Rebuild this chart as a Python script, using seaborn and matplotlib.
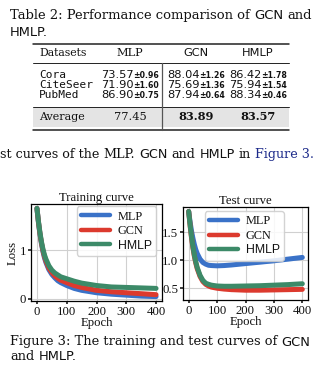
import matplotlib
matplotlib.use("Agg")
import matplotlib.pyplot as plt
import numpy as np
import pandas as pd
import seaborn as sns
from matplotlib.lines import Line2D
from matplotlib.patches import Rectangle

# ---------------- table values ----------------
datasets = ["Cora", "CiteSeer", "PubMed"]
table_models = ["MLP", "GCN", "HMLP"]
mlp_acc = ["73.57", "71.90", "86.90"]
mlp_std = ["0.96", "1.60", "0.75"]
gcn_acc = ["88.04", "75.69", "87.94"]
gcn_std = ["1.26", "1.36", "0.64"]
hmlp_acc = ["86.42", "75.94", "88.34"]
hmlp_std = ["1.78", "1.54", "0.46"]
avg_acc = ["77.45", "83.89", "83.57"]

# ---------------- loss curves ----------------
epochs = [0, 5, 10, 15, 20, 25, 30, 40, 50, 60, 70, 80, 100, 125, 150, 200, 250, 300, 350, 400]
train_mlp = [1.87, 1.58, 1.34, 1.14, 0.98, 0.85, 0.75, 0.60, 0.50, 0.43, 0.37, 0.33, 0.27, 0.21, 0.17, 0.12, 0.09, 0.07, 0.05, 0.04]
train_gcn = [1.87, 1.59, 1.35, 1.16, 1.00, 0.88, 0.78, 0.63, 0.54, 0.47, 0.42, 0.38, 0.33, 0.27, 0.23, 0.17, 0.14, 0.12, 0.10, 0.08]
train_hmlp = [1.87, 1.60, 1.37, 1.18, 1.03, 0.91, 0.82, 0.68, 0.59, 0.53, 0.49, 0.45, 0.41, 0.36, 0.32, 0.27, 0.24, 0.23, 0.22, 0.21]
test_mlp = [1.87, 1.68, 1.52, 1.39, 1.28, 1.19, 1.12, 1.02, 0.96, 0.93, 0.91, 0.905, 0.90, 0.905, 0.915, 0.94, 0.965, 0.99, 1.02, 1.05]
test_gcn = [1.87, 1.62, 1.40, 1.22, 1.07, 0.95, 0.85, 0.71, 0.62, 0.57, 0.54, 0.52, 0.50, 0.485, 0.475, 0.465, 0.465, 0.47, 0.475, 0.48]
test_hmlp = [1.87, 1.63, 1.42, 1.24, 1.09, 0.97, 0.87, 0.73, 0.64, 0.59, 0.57, 0.555, 0.54, 0.535, 0.535, 0.54, 0.545, 0.555, 0.565, 0.58]
test_mlp_spread = [0, 0, 0, 0, 0, 0, 0.005, 0.005, 0.01, 0.01, 0.01, 0.012, 0.015, 0.018, 0.02, 0.025, 0.03, 0.032, 0.035, 0.035]
test_hmlp_spread = [0, 0, 0, 0, 0, 0, 0, 0, 0.005, 0.005, 0.005, 0.006, 0.008, 0.01, 0.01, 0.012, 0.014, 0.015, 0.016, 0.017]
curve_labels = ["MLP", "GCN", "HMLP"]
colors = {"MLP": "#3a72c8", "GCN": "#dc3a2e", "HMLP": "#3c8a68"}

W, H = 335, 370
sns.set_theme(style="whitegrid", rc={
    "axes.edgecolor": "black",
    "axes.linewidth": 0.9,
    "grid.color": "#d0d0d0",
    "grid.linewidth": 0.8,
    "xtick.bottom": True,
    "ytick.left": True,
    "xtick.major.size": 2.5,
    "ytick.major.size": 2.5,
    "xtick.major.pad": 1,
    "ytick.major.pad": 1,
})
plt.rcParams["font.family"] = ["DejaVu Serif"]

fig = plt.figure(figsize=(W / 100, H / 100), dpi=100)
renderer = fig.canvas.get_renderer()

SERIF = "DejaVu Serif"
SANS = "DejaVu Sans"
MONO = "DejaVu Sans Mono"
INK = "#111111"


def fx(x):
    return x / W


def fy(y):
    return 1 - y / H


def run(x, y, pieces, size, target=None, align="left"):
    """Draw text pieces one after another on a common baseline (pixel coords)."""
    def draw(sz):
        arts, cx = [], 0.0
        for txt, props, gap in pieces:
            p = dict(props)
            scale = p.pop("scale", 1.0)
            t = fig.text(0, fy(y), txt, fontsize=sz * scale, va="baseline",
                         ha="left", color=p.pop("color", INK), **p)
            t._dx = cx
            bb = t.get_window_extent(renderer)
            cx += bb.width + gap * sz * 100 / 72
            arts.append(t)
        return arts, cx

    arts, width = draw(size)
    if target is not None:
        for a in arts:
            a.remove()
        size = size * target / width
        arts, width = draw(size)
    x0 = x - width / 2 if align == "center" else x
    for a in arts:
        a.set_x(fx(x0 + a._dx))
    return arts


SP = 0.32
serif = {"family": SERIF}
sans = {"family": SANS}

# ---------------- table caption ----------------
run(10, 19, [("Table 2: Performance comparison of", serif, SP),
             ("GCN", sans, SP), ("and", serif, 0)], 9.5, target=303)
run(10, 35.5, [("HMLP.", sans, 0)], 9.4)

# ---------------- table ----------------
TL, TR = 33, 289
fig.add_artist(Rectangle((fx(TL), fy(127.5)), (TR - TL) / W, 20 / H,
                         transform=fig.transFigure, facecolor="#e4e4e4",
                         edgecolor="none"))
for yy, lw in [(43.5, 1.1), (62.5, 0.7), (106.5, 0.7), (129.5, 1.1)]:
    fig.add_artist(Line2D([fx(TL), fx(TR)], [fy(yy), fy(yy)], color="#222222", lw=lw))
fig.add_artist(Line2D([fx(162), fx(162)], [fy(63), fy(130)], color="#555555", lw=0.9))

col_centers = [130, 196, 258]
head_fonts = [serif, sans, sans]
run(39, 56.5, [("Datasets", serif, 0)], 7.8)
for cx, name, fp in zip(col_centers, table_models, head_fonts):
    run(cx, 56.5, [(name, fp, 0)], 8.2, align="center")

row_base = [77.5, 87.5, 98]
acc_cols = [(mlp_acc, mlp_std), (gcn_acc, gcn_std), (hmlp_acc, hmlp_std)]
for i, (ds, yb) in enumerate(zip(datasets, row_base)):
    run(39, yb, [(ds, {"family": MONO}, 0)], 8.0)
    for cx, (accs, stds) in zip(col_centers, acc_cols):
        run(cx, yb, [(accs[i], {"family": SANS}, 0),
                     ("\u00b1" + stds[i], {"family": SANS, "weight": "bold", "scale": 0.68}, 0)],
            8.2, align="center")

run(39, 120, [("Average", serif, 0)], 8.0)
for k, (cx, v) in enumerate(zip(col_centers, avg_acc)):
    props = {"family": SERIF, "weight": "normal" if k == 0 else "bold"}
    run(cx, 120, [(v, props, 0)], 8.2, align="center")

# ---------------- running text ----------------
run(0, 158.5, [("st curves of the", serif, SP), ("MLP.", serif, SP), ("GCN", sans, SP),
               ("and", serif, SP), ("HMLP", sans, SP), ("in", serif, SP),
               ("Figure 3.", {"family": SERIF, "color": "#1c2a8a"}, 0)], 9.5, target=315)

# ---------------- loss plots ----------------
frames = []
for split, series in [("train", (train_mlp, train_gcn, train_hmlp)),
                      ("test", (test_mlp, test_gcn, test_hmlp))]:
    for lab, vals in zip(curve_labels, series):
        frames.append(pd.DataFrame({"Epoch": epochs, "Loss": vals,
                                    "Model": lab, "split": split}))
df = pd.concat(frames, ignore_index=True)

ax1 = fig.add_axes([fx(31), fy(301), 131 / W, 97 / H])
ax2 = fig.add_axes([fx(183), fy(300), 125 / W, 93 / H])

sns.lineplot(data=df[df.split == "train"], x="Epoch", y="Loss", hue="Model",
             hue_order=curve_labels, palette=colors, lw=3.6, ax=ax1)
sns.lineplot(data=df[df.split == "test"], x="Epoch", y="Loss", hue="Model",
             hue_order=curve_labels, palette=colors, lw=3.6, ax=ax2)
ax2.fill_between(epochs, np.array(test_mlp) - np.array(test_mlp_spread),
                 np.array(test_mlp) + np.array(test_mlp_spread),
                 color=colors["MLP"], alpha=0.18, lw=0)
ax2.fill_between(epochs, np.array(test_hmlp) - np.array(test_hmlp_spread),
                 np.array(test_hmlp) + np.array(test_hmlp_spread),
                 color=colors["HMLP"], alpha=0.15, lw=0)

TICK_FONT = "Liberation Serif"
FS = 9.2
for ax, title in [(ax1, "Training curve"), (ax2, "Test curve")]:
    ax.set_title(title, fontsize=FS, family=TICK_FONT, pad=1.5, color=INK)
    ax.set_xlabel("Epoch", fontsize=FS, family=TICK_FONT, labelpad=-0.5, color=INK)
    ax.set_xticks([0, 100, 200, 300, 400])
    for s in ax.spines.values():
        s.set_color("black")

ax1.set_yticks([0, 1])
ax1.set_ylabel("Loss", fontsize=FS, family=TICK_FONT, labelpad=1, color=INK)
ax2.set_yticks([0.5, 1.0, 1.5])
ax2.set_ylabel("")
ax2.set_ylim(0.29, 1.95)
for ax in (ax1, ax2):
    for lab in ax.get_xticklabels() + ax.get_yticklabels():
        lab.set_family(TICK_FONT)
        lab.set_fontsize(FS)
        lab.set_color(INK)

for ax, loc, anchor in [(ax1, "upper right", (0.955, 0.975)),
                        (ax2, "upper center", (0.49, 0.955))]:
    handles, labels = ax.get_legend_handles_labels()
    leg = ax.legend(handles, labels, loc=loc, fontsize=8.8, handlelength=2.4,
                    handletextpad=0.6, labelspacing=0.2, borderpad=0.35,
                    borderaxespad=0.0, frameon=True, framealpha=0.85,
                    edgecolor="#cccccc", bbox_to_anchor=anchor)
    for line in leg.get_lines():
        line.set_linewidth(3.2)
    for txt in leg.get_texts():
        txt.set_family(TICK_FONT if txt.get_text() != "HMLP" else "Liberation Sans")
        txt.set_color(INK)

# ---------------- figure caption ----------------
run(10, 345.5, [("Figure 3: The training and test curves of", serif, SP),
                ("GCN", sans, 0)], 9.5, target=302)
run(10, 359.5, [("and", serif, SP), ("HMLP.", sans, 0)], 9.4)

fig.savefig("out.png", dpi=100, facecolor="white")
